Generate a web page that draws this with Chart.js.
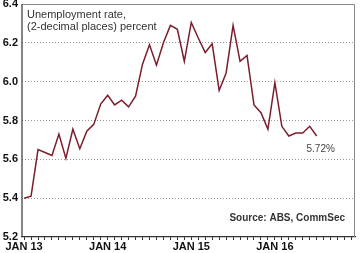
<!DOCTYPE html>
<html>
<head>
<meta charset="utf-8">
<script src="https://cdn.jsdelivr.net/npm/chart.js@4.4.1/dist/chart.umd.min.js"></script>
<style>
  html, body { margin: 0; padding: 0; background: #fff; }
  #wrap { width: 360px; height: 253px; position: relative; }
</style>
</head>
<body>
<div id="wrap"><canvas id="unempChart"></canvas></div>
<script>
// monthly unemployment rate, Jan 2013 - Jul 2016
const yearLabels = ['JAN 13', 'JAN 14', 'JAN 15', 'JAN 16'];
const rate2013 = [5.40, 5.41, 5.65, 5.635, 5.62, 5.73, 5.605, 5.755, 5.655, 5.745, 5.78, 5.885];
const rate2014 = [5.93, 5.88, 5.905, 5.87, 5.925, 6.09, 6.19, 6.085, 6.20, 6.29, 6.27, 6.105];
const rate2015 = [6.305, 6.225, 6.15, 6.195, 5.955, 6.045, 6.29, 6.105, 6.135, 5.88, 5.84, 5.755];
const rate2016 = [5.995, 5.77, 5.72, 5.735, 5.735, 5.77, 5.72];
const yTicks = [5.2, 5.4, 5.6, 5.8, 6, 6.2, 6.4];
const lastLabel = '5.72%';

const rates = [...rate2013, ...rate2014, ...rate2015, ...rate2016];
const points = rates.map((v, i) => ({ x: i, y: v }));

const axisFont = { family: 'Liberation Sans, Arial, sans-serif', size: 11, weight: 'bold' };

// frame, titles and end label
const decor = {
    id: 'decor',
    afterDraw(chart) {
        const { ctx, chartArea: a } = chart;
        ctx.save();
        ctx.strokeStyle = '#8a8a8a';
        ctx.lineWidth = 1;
        ctx.beginPath();
        ctx.moveTo(a.left, a.top + 0.5);
        ctx.lineTo(a.right - 0.5, a.top + 0.5);
        ctx.lineTo(a.right - 0.5, a.bottom);
        ctx.stroke();

        ctx.strokeStyle = '#333';
        ctx.lineWidth = 1.2;
        ctx.beginPath();
        ctx.moveTo(a.left, a.top);
        ctx.lineTo(a.left, a.bottom);
        ctx.stroke();

        ctx.fillStyle = '#333';
        ctx.font = '11px Liberation Sans, Arial, sans-serif';
        ctx.textBaseline = 'middle';
        ctx.fillText('Unemployment rate,', 27, 15);
        ctx.fillText('(2-decimal places) percent', 27, 27);

        ctx.font = 'bold 10px Liberation Sans, Arial, sans-serif';
        ctx.textAlign = 'right';
        ctx.fillText('Source: ABS, CommSec', 345, 218);

        const meta = chart.getDatasetMeta(0);
        const last = meta.data[meta.data.length - 1];
        ctx.font = '10px Liberation Sans, Arial, sans-serif';
        ctx.fillStyle = '#444';
        ctx.textAlign = 'center';
        ctx.fillText(lastLabel, last.x + 4, last.y + 13);
        ctx.restore();
    }
};

new Chart(document.getElementById('unempChart'), {
    type: 'line',
    data: {
        datasets: [{
            data: points,
            borderColor: '#7b1e2b',
            borderWidth: 1.5,
            pointRadius: 0,
            tension: 0,
            fill: false
        }]
    },
    options: {
        responsive: true,
        maintainAspectRatio: false,
        animation: false,
        layout: { padding: { top: 4, right: 5, left: 0, bottom: 0 } },
        plugins: { legend: { display: false }, tooltip: { enabled: false } },
        scales: {
            x: {
                type: 'linear',
                min: -0.3,
                max: 47.5,
                afterBuildTicks: (s) => {
                    s.ticks = [];
                    for (let i = 0; i <= 47; i++) s.ticks.push({ value: i });
                },
                afterFit: (s) => { s.height = 16; s.paddingLeft = 0; s.paddingRight = 0; },
                grid: { drawOnChartArea: false, drawTicks: true, tickLength: 3, color: '#333' },
                border: { color: '#333', width: 1.2 },
                ticks: {
                    autoSkip: false,
                    maxRotation: 0,
                    padding: 0,
                    color: '#111',
                    font: axisFont,
                    callback: (v) => (v % 12 === 0 ? yearLabels[v / 12] : '')
                }
            },
            y: {
                min: 5.2,
                max: 6.4,
                afterBuildTicks: (s) => { s.ticks = yTicks.map(v => ({ value: v })); },
                afterFit: (s) => { s.width = 22; s.paddingTop = 0; s.paddingBottom = 0; },
                grid: {
                    drawTicks: false,
                    color: (c) => (c.tick && (c.tick.value === 5.2 || c.tick.value === 6.4) ? 'rgba(0,0,0,0)' : '#9a9a9a'),
                    lineWidth: 1
                },
                border: { display: false, dash: [1, 2] },
                ticks: {
                    padding: 4,
                    color: '#111',
                    font: axisFont
                }
            }
        }
    },
    plugins: [decor]
});
</script>
</body>
</html>
